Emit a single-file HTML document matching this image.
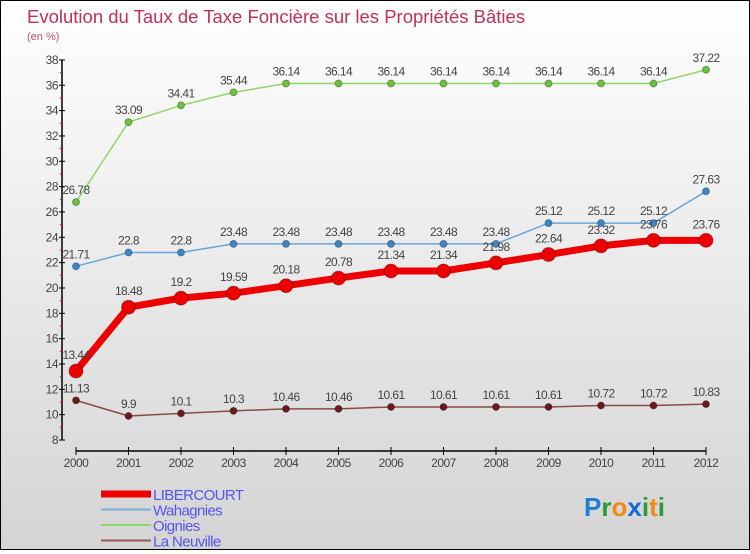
<!DOCTYPE html>
<html><head><meta charset="utf-8"><style>
body{margin:0;}
#c{width:748px;height:548px;border:1px solid #000;background:linear-gradient(#ffffff,#d4d4d4);position:relative;font-family:"Liberation Sans",sans-serif;}
text{font-family:"Liberation Sans",sans-serif;}
</style></head><body>
<div id="c">
<svg id="s" width="748" height="548" xmlns="http://www.w3.org/2000/svg">
<text x="26" y="22" font-size="18.5" fill="#c0305a">Evolution du Taux de Taxe Foncière sur les Propriétés Bâties</text>
<text x="26" y="39" font-size="11" fill="#c0507a">(en %)</text>
</svg>
</div>
<script>
const years=[2000,2001,2002,2003,2004,2005,2006,2007,2008,2009,2010,2011,2012];
const yTicks=[8,10,12,14,16,18,20,22,24,26,28,30,32,34,36,38];
const libercourt=[13.44,18.48,19.2,19.59,20.18,20.78,21.34,21.34,21.98,22.64,23.32,23.76,23.76];
const wahagnies=[21.71,22.8,22.8,23.48,23.48,23.48,23.48,23.48,23.48,25.12,25.12,25.12,27.63];
const oignies=[26.78,33.09,34.41,35.44,36.14,36.14,36.14,36.14,36.14,36.14,36.14,36.14,37.22];
const laNeuville=[11.13,9.9,10.1,10.3,10.46,10.46,10.61,10.61,10.61,10.61,10.72,10.72,10.83];
const seriesNames=["LIBERCOURT","Wahagnies","Oignies","La Neuville"];

const s=document.getElementById('s');
const NS="http://www.w3.org/2000/svg";
const X=i=>75+i*52.5;
const Y=v=>363-(v-14)*12.67;
function mk(t,a,p){const e=document.createElementNS(NS,t);for(const k in a)e.setAttribute(k,a[k]);(p||s).appendChild(e);return e;}
let ax=mk('line',{x1:61,y1:Y(38),x2:61,y2:Y(8),stroke:'#000','stroke-width':1.5});


let xa=mk('line',{x1:X(0),y1:450,x2:X(12),y2:450,stroke:'#000','stroke-width':1.5});


yTicks.forEach(v=>{
 mk('line',{x1:58,y1:Y(v),x2:64,y2:Y(v),stroke:'#000'});
 mk('line',{x1:59,y1:Y(v+1),x2:62,y2:Y(v+1),stroke:v<38?'#e00':'none'});
 const t=mk('text',{x:57,y:Y(v)+4,'font-size':12,fill:'#444','text-anchor':'end','letter-spacing':'-0.5'});
 t.textContent=v;
 
 
});
years.forEach((y,i)=>{
 mk('line',{x1:X(i),y1:446,x2:X(i),y2:454,stroke:'#000'});
 const t=mk('text',{x:X(i),y:466,'font-size':12,fill:'#444','text-anchor':'middle','letter-spacing':'-0.5'});
 t.textContent=y;
 
 
});
function series(data,color,w,r,dot,name){
 const g=mk('g',{});
 
 
 mk('polyline',{points:data.map((v,i)=>X(i)+','+Y(v)).join(' '),fill:'none',stroke:color,'stroke-width':w,'stroke-linejoin':'round'},g);
 data.forEach((v,i)=>{
  const c=mk('circle',{cx:X(i),cy:Y(v),r:r,fill:dot,stroke:'rgba(0,0,0,0.3)'},g);
  
  
  const t=mk('text',{x:X(i),y:Y(v)-8-(r>5?4:0),'font-size':12,fill:'#444','text-anchor':'middle','letter-spacing':'-0.6'},g);
  t.textContent=v;
  
  
 });
}
series(oignies,'#8fd66a',1.5,3.5,'#6cc23a','series-oignies');
series(wahagnies,'#6aa6d6',1.5,3.5,'#3a86c6','series-wahagnies');
series(laNeuville,'#8a4a4a',1.5,3.5,'#6a1a1a','series-la-neuville');
series(libercourt,'#ee0000',7,7,'#ee0000','series-libercourt');
const lc=['#ee0000','#7aaed6','#8fd66a','#9a5a5a'];
const lw=[7,2,2,2];
seriesNames.forEach((n,i)=>{
 const y=493+i*15.5;
 const l=mk('line',{x1:100,y1:y,x2:150,y2:y,stroke:lc[i],'stroke-width':lw[i]});
 
 
 const t=mk('text',{x:152,y:y+6,'font-size':15,fill:'#5555ee','letter-spacing':'-0.6'});
 t.textContent=n;
 
 
});
const lg=mk('text',{x:583,y:515,'font-size':26,'font-weight':'bold'});


[['P','#1a7ed6'],['r','#2a9a3a'],['o','#f08a10'],['x','#1a6ad6'],['i','#2a9a3a'],['t','#f08a10'],['i','#2a9a3a']].forEach(([c,f])=>{const sp=mk('tspan',{fill:f},lg);sp.textContent=c;});
</script>
</body></html>
